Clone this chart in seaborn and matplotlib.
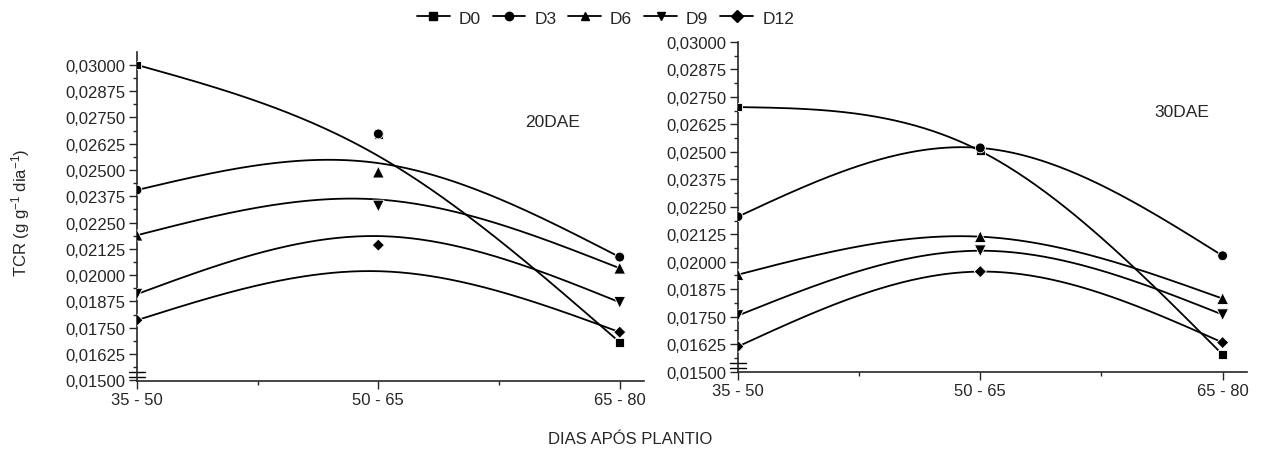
import numpy as np
import pandas as pd
import matplotlib
matplotlib.use("Agg")
import matplotlib.pyplot as plt
from matplotlib.lines import Line2D
from matplotlib.ticker import MultipleLocator, FuncFormatter
import seaborn as sns


PERIODOS = ["35 - 50", "50 - 65", "65 - 80"]
SERIES = ["D0", "D3", "D6", "D9", "D12"]
MARCADORES = {"D0": "s", "D3": "o", "D6": "^", "D9": "v", "D12": "D"}
TAMANOS = {"D0": 38, "D3": 50, "D6": 70, "D9": 70, "D12": 38}

# 20 DAE: medias observadas
d0_20 = [0.03000, 0.02670, 0.01681]
d3_20 = [0.02405, 0.02672, 0.02086]
d6_20 = [0.02190, 0.02490, 0.02033]
d9_20 = [0.01910, 0.02329, 0.01871]
d12_20 = [0.01786, 0.02143, 0.01729]

# 20 DAE: valores de la curva ajustada en cada periodo
aj_d0_20 = [0.03000, 0.02567, 0.01681]
aj_d3_20 = [0.02405, 0.02533, 0.02086]
aj_d6_20 = [0.02190, 0.02360, 0.02033]
aj_d9_20 = [0.01910, 0.02186, 0.01871]
aj_d12_20 = [0.01786, 0.02019, 0.01729]

# 30 DAE: medias observadas (la curva pasa por ellas)
d0_30 = [0.02704, 0.02504, 0.01577]
d3_30 = [0.02205, 0.02518, 0.02027]
d6_30 = [0.01941, 0.02114, 0.01832]
d9_30 = [0.01755, 0.02050, 0.01759]
d12_30 = [0.01614, 0.01955, 0.01632]

medias_20 = dict(zip(SERIES, [d0_20, d3_20, d6_20, d9_20, d12_20]))
ajuste_20 = dict(zip(SERIES, [aj_d0_20, aj_d3_20, aj_d6_20, aj_d9_20, aj_d12_20]))
medias_30 = dict(zip(SERIES, [d0_30, d3_30, d6_30, d9_30, d12_30]))
ajuste_30 = medias_30


def spline_natural(y, n=100):
    """Spline cúbico natural por tres puntos equiespaciados (x = 0, 1, 2)."""
    y0, y1, y2 = y
    m1 = 1.5 * (y0 - 2 * y1 + y2)
    t = np.linspace(0, 1, n)
    tramo1 = m1 * t ** 3 / 6 + y0 * (1 - t) + (y1 - m1 / 6) * t
    tramo2 = m1 * (1 - t) ** 3 / 6 + (y1 - m1 / 6) * (1 - t) + y2 * t
    xs = np.concatenate([t, 1 + t])
    return xs, np.concatenate([tramo1, tramo2])


def tabla_puntos(medias):
    filas = []
    for s in SERIES:
        for i, v in enumerate(medias[s]):
            filas.append({"x": i, "tcr": v, "serie": s})
    return pd.DataFrame(filas)


def tabla_curvas(ajuste):
    filas = []
    for s in SERIES:
        xs, ys = spline_natural(ajuste[s])
        for x, v in zip(xs, ys):
            filas.append({"x": x, "tcr": v, "serie": s})
    return pd.DataFrame(filas)


def formato_coma(v, pos):
    return f"{v:.5f}".replace(".", ",")


def dibujar(ax, medias, ajuste, ylim, etiqueta, pos_etiqueta):
    sns.lineplot(data=tabla_curvas(ajuste), x="x", y="tcr", units="serie",
                 estimator=None, sort=False, color="black", linewidth=1.3,
                 ax=ax, legend=False)
    sns.scatterplot(data=tabla_puntos(medias), x="x", y="tcr", style="serie",
                    markers=MARCADORES, style_order=SERIES, size="serie",
                    sizes=TAMANOS, size_order=SERIES, color="black",
                    edgecolor="white", linewidth=0.6, ax=ax, legend=False,
                    zorder=3)
    ax.set_xlim(0, 2.1)
    ax.set_ylim(*ylim)
    ax.set_xticks([0, 1, 2])
    ax.set_xticklabels(PERIODOS)
    ax.xaxis.set_minor_locator(MultipleLocator(0.5))
    ax.yaxis.set_major_locator(MultipleLocator(0.00125))
    ax.yaxis.set_minor_locator(MultipleLocator(0.000625))
    ax.yaxis.set_major_formatter(FuncFormatter(formato_coma))
    ax.tick_params(which="major", direction="out", length=6, width=1, labelsize=12, pad=2)
    ax.tick_params(which="minor", direction="out", length=3, width=1)
    ax.set_xlabel("")
    ax.set_ylabel("")
    for lado in ["top", "right"]:
        ax.spines[lado].set_visible(False)
    for lado in ["left", "bottom"]:
        ax.spines[lado].set_linewidth(1.2)
    # marca de corte del eje y
    for yy in [0.012, 0.026]:
        ax.plot([-0.016, 0.016], [yy, yy], transform=ax.transAxes, color="black",
                linewidth=1, clip_on=False)
    ax.text(pos_etiqueta[0], pos_etiqueta[1], etiqueta, fontsize=12.5, ha="center", va="center")


sns.set_theme(style="ticks")
plt.rcParams["font.family"] = ["Liberation Sans", "DejaVu Sans"]
plt.rcParams["mathtext.fontset"] = "custom"
plt.rcParams["mathtext.rm"] = "Liberation Sans"
plt.rcParams["mathtext.it"] = "Liberation Sans"

fig = plt.figure(figsize=(12.61, 4.52), dpi=100)
ax1 = fig.add_axes([0.1086, 0.155, 0.402, 0.728])
ax2 = fig.add_axes([0.5852, 0.1748, 0.4036, 0.730])

dibujar(ax1, medias_20, ajuste_20, (0.01497, 0.03062), "20DAE", (1.72, 0.02729))
dibujar(ax2, medias_30, ajuste_30, (0.01498, 0.03000), "30DAE", (1.83, 0.02686))

handles = [Line2D([], [], color="black", linewidth=1.3, marker=MARCADORES[s],
                  markersize=6, label=s) for s in SERIES]
fig.legend(handles=handles, loc="center", bbox_to_anchor=(0.48, 0.958), ncol=5,
           frameon=False, fontsize=12.5, handlelength=1.9, handletextpad=0.5,
           columnspacing=0.7, numpoints=1)

fig.text(0.016, 0.53, "TCR (g g$^{-1}$ dia$^{-1}$)", rotation=90, fontsize=12,
         ha="center", va="center")
fig.text(0.5, 0.027, "DIAS APÓS PLANTIO", fontsize=12, ha="center", va="center")

fig.savefig("out.png", dpi=100)
